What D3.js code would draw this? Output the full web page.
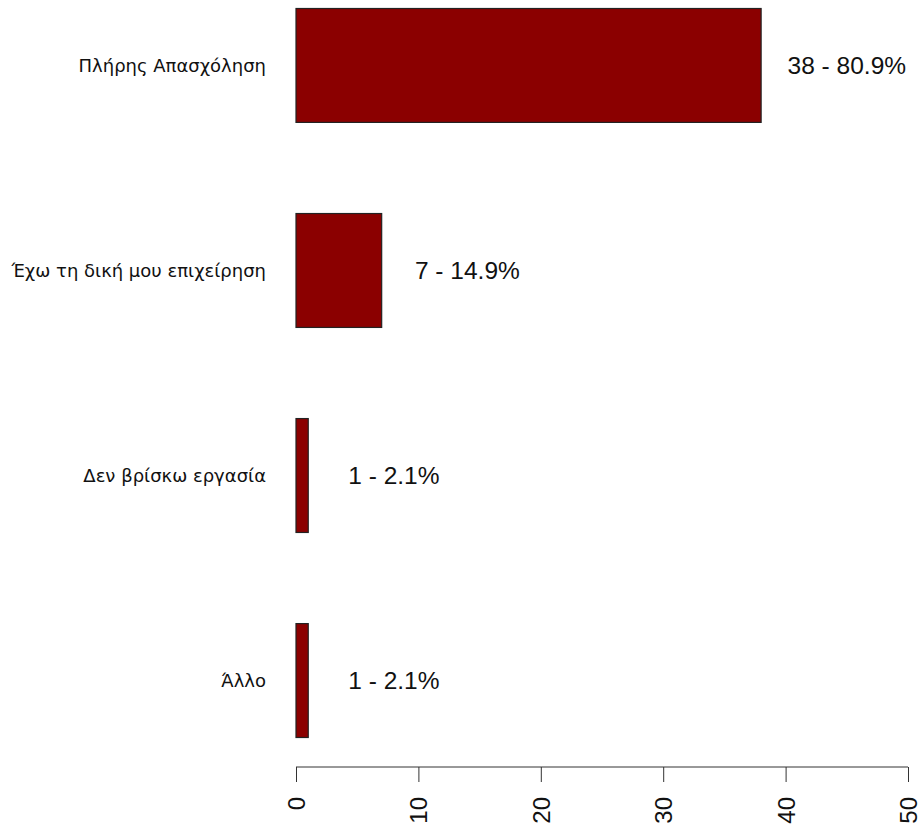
<!DOCTYPE html>
<html><head><meta charset="utf-8">
<script src="https://cdn.jsdelivr.net/npm/d3@7"></script>
<style>body{margin:0;background:#fff}</style>
</head><body>
<script>
const categories = ["Πλήρης Απασχόληση","Έχω τη δική μου επιχείρηση","Δεν βρίσκω εργασία","Άλλο"];
const counts = [38, 7, 1, 1];
const valueLabels = ["38 - 80.9%","7 - 14.9%","1 - 2.1%","1 - 2.1%"];
const xTicks = [0,10,20,30,40,50];

const W = 920, H = 829;
const svg = d3.select("body").append("svg").attr("width", W).attr("height", H);

const x = d3.scaleLinear().domain([0, 50]).range([296, 908]);
const y = d3.scaleBand().domain(categories).range([8.5, 737.5]).paddingInner(0.8/1.8).paddingOuter(0);

const data = categories.map((c, i) => ({c, v: counts[i], lab: valueLabels[i]}));

svg.selectAll("rect.bar").data(data).enter().append("rect")
  .attr("class","bar")
  .attr("x", x(0)).attr("y", d => y(d.c))
  .attr("width", d => x(d.v) - x(0)).attr("height", y.bandwidth())
  .attr("fill", "#8B0000").attr("stroke", "#222").attr("stroke-width", 1.2);

svg.selectAll("text.cat").data(data).enter().append("text")
  .attr("class","cat")
  .attr("x", 266).attr("y", d => y(d.c) + y.bandwidth()/2)
  .attr("text-anchor","end").attr("dominant-baseline","central")
  .style("font-family","DejaVu Sans, sans-serif").style("font-size","18px").attr("fill","#111")
  .text(d => d.c);

svg.selectAll("text.val").data(data).enter().append("text")
  .attr("class","val")
  .attr("x", d => x(d.v + 7)).attr("y", d => y(d.c) + y.bandwidth()/2)
  .attr("text-anchor","middle").attr("dominant-baseline","central")
  .style("font-family","Liberation Sans, Arial, sans-serif").style("font-size","24.5px").attr("fill","#111")
  .text(d => d.lab);

const axis = d3.axisBottom(x).tickValues(xTicks).tickSize(15).tickPadding(0);
const g = svg.append("g").attr("transform","translate(0,767)").call(axis);
g.select(".domain").attr("stroke","#333").attr("d", `M${x(0)},0H${x(50)}`);
g.selectAll(".tick line").attr("stroke","#333");
g.selectAll(".tick text")
  .attr("transform","translate(0,30) rotate(-90)")
  .attr("x",0).attr("y",0).attr("dy",null)
  .attr("text-anchor","end").attr("dominant-baseline","central")
  .style("font-family","Liberation Sans, Arial, sans-serif").style("font-size","24px").attr("fill","#111");
</script>
</body></html>
